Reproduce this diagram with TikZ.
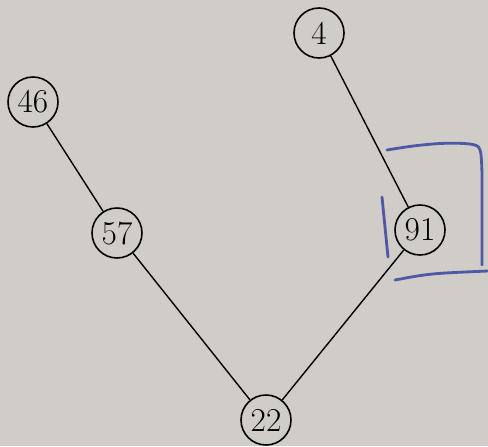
\documentclass[tikz,border=0pt]{standalone}
\definecolor{paper}{RGB}{208,204,199}
\definecolor{pen}{RGB}{78,88,165}
\tikzset{
  key/.style={circle,draw,line width=0.9pt,minimum size=1.0cm,inner sep=0pt,font=\fontsize{19}{19}\selectfont},
  edge/.style={line width=0.8pt},
  ink/.style={pen,line width=1.6pt,line cap=round,line join=round}
}
\begin{document}
\begin{tikzpicture}
\fill[paper] (0,0) rectangle (9.76,8.92);
\useasboundingbox (0,0) rectangle (9.76,8.92);

\node[key] (n4)  at (6.38,8.26) {4};
\node[key] (n46) at (0.66,6.88) {46};
\node[key] (n57) at (2.34,4.26) {57};
\node[key] (n91) at (8.40,4.32) {91};
\node[key] (n22) at (5.32,0.52) {22};

\draw[edge] (n46) -- (n57);
\draw[edge] (n57) -- (n22);
\draw[edge] (n22) -- (n91);
\draw[edge] (n91) -- (n4);

% pen marks round 91
\draw[ink] (7.64,4.98) -- (7.76,3.78);
\draw[ink] (7.74,5.92) .. controls (8.5,6.05) and (9.0,6.08) .. (9.40,6.04)
  .. controls (9.62,6.0) .. (9.64,5.46) -- (9.64,3.62);
\draw[ink] (7.90,3.32) .. controls (8.6,3.45) .. (9.76,3.50);
\end{tikzpicture}
\end{document}
